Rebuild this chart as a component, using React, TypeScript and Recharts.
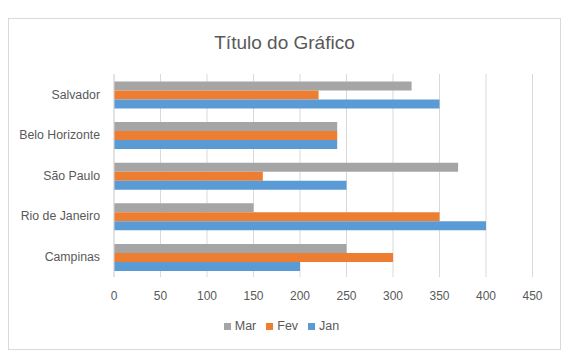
import React from "react";
import { BarChart, Bar, XAxis, YAxis, CartesianGrid, Legend } from "recharts";

const categories = ["Salvador", "Belo Horizonte", "São Paulo", "Rio de Janeiro", "Campinas"];
const janValues = [350, 240, 250, 400, 200];
const fevValues = [220, 240, 160, 350, 300];
const marValues = [320, 240, 370, 150, 250];
const xTicks = [0, 50, 100, 150, 200, 250, 300, 350, 400, 450];
const legendOrder = ["Mar", "Fev", "Jan"];

const data = categories.map((name, i) => ({
  name,
  Jan: janValues[i],
  Fev: fevValues[i],
  Mar: marValues[i],
}));

const FONT = "'Liberation Sans', Arial, sans-serif";
const TEXT = "#595959";

export default function App() {
  return (
    <div
      style={{
        marginTop: 10,
        width: 551,
        height: 330,
        border: "1px solid #d9d9d9",
        position: "relative",
        fontFamily: FONT,
        background: "#fff",
      }}
    >
      <div
        style={{
          position: "absolute",
          top: 12,
          left: 0,
          width: "100%",
          height: 24,
          lineHeight: "24px",
          textAlign: "center",
          fontSize: 19,
          color: TEXT,
        }}
      >
        Título do Gráfico
      </div>
      <BarChart
        width={551}
        height={330}
        data={data}
        layout="vertical"
        margin={{ top: 55, right: 27.5, bottom: 14, left: 0 }}
        barCategoryGap="18.5%"
        barGap={0}
        style={{ fontFamily: FONT }}
      >
        <CartesianGrid horizontal={false} stroke="#d9d9d9" strokeWidth={1} />
        <XAxis
          type="number"
          domain={[0, 450]}
          ticks={xTicks}
          axisLine={false}
          tickLine={false}
          tickMargin={8}
          height={40}
          interval={0}
          tick={{ fill: TEXT, fontSize: 12 }}
        />
        <YAxis
          type="category"
          dataKey="name"
          width={105}
          axisLine={{ stroke: "#d9d9d9" }}
          tickLine={false}
          tickMargin={8}
          interval={0}
          tick={{ fill: TEXT, fontSize: 12.3 }}
        />
        <Legend
          verticalAlign="bottom"
          align="center"
          iconType="square"
          iconSize={7}
          itemSorter={(item: any) => legendOrder.indexOf(String(item.value))}
          wrapperStyle={{ height: 18, lineHeight: "18px", fontSize: 12.5, left: 0, width: 555 }}
          formatter={(value: string) => <span style={{ color: TEXT }}>{value}</span>}
        />
        <Bar dataKey="Mar" fill="#a5a5a5" isAnimationActive={false} />
        <Bar dataKey="Fev" fill="#ed7d31" isAnimationActive={false} />
        <Bar dataKey="Jan" fill="#5b9bd5" isAnimationActive={false} />
      </BarChart>
    </div>
  );
}
